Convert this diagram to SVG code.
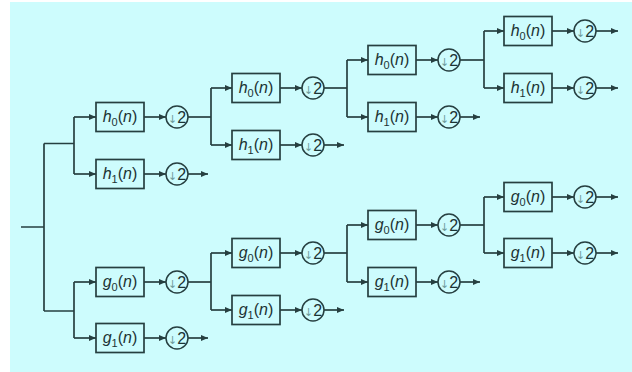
<svg xmlns="http://www.w3.org/2000/svg" width="632" height="372" viewBox="0 0 632 372">
  <style>
    .wire { fill: none; stroke: #263f40; stroke-width: 1.7; }
    .arr { fill: none; stroke: #263f40; stroke-width: 1.7; marker-end: url(#ah); }
    .box { fill: #cdfcfd; stroke: #263f40; stroke-width: 1.7; }
    .dec { fill: #cdfcfd; stroke: #263f40; stroke-width: 1.5; }
    .lbl { font-family: "Liberation Sans", Arial, sans-serif; font-size: 16px; fill: #1c3334; text-anchor: middle; }
    .it { font-style: italic; }
    .sub { font-size: 11px; }
    .dn { font-family: "DejaVu Sans", "Liberation Sans", sans-serif; font-size: 11px; fill: #6f9c9e; }
  </style>
  <defs>
    <marker id="ah" markerWidth="7" markerHeight="6" refX="7" refY="3" orient="auto" markerUnits="userSpaceOnUse">
      <path d="M0,0 L7,3 L0,6 z" fill="#263f40"/>
    </marker>
  </defs>

  <!-- background panel -->
  <rect x="10" y="2" width="622" height="370" fill="#cdfcfd"/>

  <!-- connectors -->
  <g id="connectors">
    <!-- input split -->
    <path class="wire" d="M21,227 H44 M44,143.5 V311 M44,143.5 H74 M44,311 H74"/>

    <!-- h branch, stage 1 -->
    <path class="wire" d="M74,117 V174"/>
    <path class="arr" d="M74,117 H96"/>
    <path class="arr" d="M74,174 H96"/>
    <path class="arr" d="M144,117 H166"/>
    <path class="arr" d="M144,174 H166"/>
    <path class="wire" d="M188,117 H211"/>
    <path class="arr" d="M188,174 H208"/>

    <!-- h branch, stage 2 -->
    <path class="wire" d="M211,88 V145"/>
    <path class="arr" d="M211,88 H232"/>
    <path class="arr" d="M211,145 H232"/>
    <path class="arr" d="M280,88 H302"/>
    <path class="arr" d="M280,145 H302"/>
    <path class="wire" d="M324,88 H347"/>
    <path class="arr" d="M324,145 H344"/>

    <!-- h branch, stage 3 -->
    <path class="wire" d="M347,60 V117"/>
    <path class="arr" d="M347,60 H368"/>
    <path class="arr" d="M347,117 H368"/>
    <path class="arr" d="M416,60 H438"/>
    <path class="arr" d="M416,117 H438"/>
    <path class="wire" d="M460,60 H484"/>
    <path class="arr" d="M460,117 H480"/>

    <!-- h branch, stage 4 -->
    <path class="wire" d="M484,31 V88"/>
    <path class="arr" d="M484,31 H504"/>
    <path class="arr" d="M484,88 H504"/>
    <path class="arr" d="M552,31 H574"/>
    <path class="arr" d="M552,88 H574"/>
    <path class="arr" d="M596,31 H618"/>
    <path class="arr" d="M596,88 H618"/>

    <!-- g branch, stage 1 -->
    <path class="wire" d="M74,282 V338"/>
    <path class="arr" d="M74,282 H96"/>
    <path class="arr" d="M74,338 H96"/>
    <path class="arr" d="M144,282 H166"/>
    <path class="arr" d="M144,338 H166"/>
    <path class="wire" d="M188,282 H211"/>
    <path class="arr" d="M188,338 H208"/>

    <!-- g branch, stage 2 -->
    <path class="wire" d="M211,253 V310"/>
    <path class="arr" d="M211,253 H232"/>
    <path class="arr" d="M211,310 H232"/>
    <path class="arr" d="M280,253 H302"/>
    <path class="arr" d="M280,310 H302"/>
    <path class="wire" d="M324,253 H347"/>
    <path class="arr" d="M324,310 H344"/>

    <!-- g branch, stage 3 -->
    <path class="wire" d="M347,225 V282"/>
    <path class="arr" d="M347,225 H368"/>
    <path class="arr" d="M347,282 H368"/>
    <path class="arr" d="M416,225 H438"/>
    <path class="arr" d="M416,282 H438"/>
    <path class="wire" d="M460,225 H484"/>
    <path class="arr" d="M460,282 H480"/>

    <!-- g branch, stage 4 -->
    <path class="wire" d="M484,197 V253"/>
    <path class="arr" d="M484,197 H504"/>
    <path class="arr" d="M484,253 H504"/>
    <path class="arr" d="M552,197 H574"/>
    <path class="arr" d="M552,253 H574"/>
    <path class="arr" d="M596,197 H618"/>
    <path class="arr" d="M596,253 H618"/>
  </g>

  <!-- filter blocks -->
  <g id="h0_1"><rect class="box" x="96" y="102.5" width="48" height="29"/><text class="lbl" x="120" y="122"><tspan class="it">h</tspan><tspan class="sub" dy="4">0</tspan><tspan dy="-4">(</tspan><tspan class="it">n</tspan>)</text></g>
  <g id="h1_1"><rect class="box" x="96" y="159.5" width="48" height="29"/><text class="lbl" x="120" y="179"><tspan class="it">h</tspan><tspan class="sub" dy="4">1</tspan><tspan dy="-4">(</tspan><tspan class="it">n</tspan>)</text></g>
  <g id="h0_2"><rect class="box" x="232" y="73.5" width="48" height="29"/><text class="lbl" x="256" y="93"><tspan class="it">h</tspan><tspan class="sub" dy="4">0</tspan><tspan dy="-4">(</tspan><tspan class="it">n</tspan>)</text></g>
  <g id="h1_2"><rect class="box" x="232" y="130.5" width="48" height="29"/><text class="lbl" x="256" y="150"><tspan class="it">h</tspan><tspan class="sub" dy="4">1</tspan><tspan dy="-4">(</tspan><tspan class="it">n</tspan>)</text></g>
  <g id="h0_3"><rect class="box" x="368" y="45.5" width="48" height="29"/><text class="lbl" x="392" y="65"><tspan class="it">h</tspan><tspan class="sub" dy="4">0</tspan><tspan dy="-4">(</tspan><tspan class="it">n</tspan>)</text></g>
  <g id="h1_3"><rect class="box" x="368" y="102.5" width="48" height="29"/><text class="lbl" x="392" y="122"><tspan class="it">h</tspan><tspan class="sub" dy="4">1</tspan><tspan dy="-4">(</tspan><tspan class="it">n</tspan>)</text></g>
  <g id="h0_4"><rect class="box" x="504" y="16.5" width="48" height="29"/><text class="lbl" x="528" y="36"><tspan class="it">h</tspan><tspan class="sub" dy="4">0</tspan><tspan dy="-4">(</tspan><tspan class="it">n</tspan>)</text></g>
  <g id="h1_4"><rect class="box" x="504" y="73.5" width="48" height="29"/><text class="lbl" x="528" y="93"><tspan class="it">h</tspan><tspan class="sub" dy="4">1</tspan><tspan dy="-4">(</tspan><tspan class="it">n</tspan>)</text></g>

  <g id="g0_1"><rect class="box" x="96" y="267.5" width="48" height="29"/><text class="lbl" x="120" y="287"><tspan class="it">g</tspan><tspan class="sub" dy="4">0</tspan><tspan dy="-4">(</tspan><tspan class="it">n</tspan>)</text></g>
  <g id="g1_1"><rect class="box" x="96" y="323.5" width="48" height="29"/><text class="lbl" x="120" y="343"><tspan class="it">g</tspan><tspan class="sub" dy="4">1</tspan><tspan dy="-4">(</tspan><tspan class="it">n</tspan>)</text></g>
  <g id="g0_2"><rect class="box" x="232" y="238.5" width="48" height="29"/><text class="lbl" x="256" y="258"><tspan class="it">g</tspan><tspan class="sub" dy="4">0</tspan><tspan dy="-4">(</tspan><tspan class="it">n</tspan>)</text></g>
  <g id="g1_2"><rect class="box" x="232" y="295.5" width="48" height="29"/><text class="lbl" x="256" y="315"><tspan class="it">g</tspan><tspan class="sub" dy="4">1</tspan><tspan dy="-4">(</tspan><tspan class="it">n</tspan>)</text></g>
  <g id="g0_3"><rect class="box" x="368" y="210.5" width="48" height="29"/><text class="lbl" x="392" y="230"><tspan class="it">g</tspan><tspan class="sub" dy="4">0</tspan><tspan dy="-4">(</tspan><tspan class="it">n</tspan>)</text></g>
  <g id="g1_3"><rect class="box" x="368" y="267.5" width="48" height="29"/><text class="lbl" x="392" y="287"><tspan class="it">g</tspan><tspan class="sub" dy="4">1</tspan><tspan dy="-4">(</tspan><tspan class="it">n</tspan>)</text></g>
  <g id="g0_4"><rect class="box" x="504" y="182.5" width="48" height="29"/><text class="lbl" x="528" y="202"><tspan class="it">g</tspan><tspan class="sub" dy="4">0</tspan><tspan dy="-4">(</tspan><tspan class="it">n</tspan>)</text></g>
  <g id="g1_4"><rect class="box" x="504" y="238.5" width="48" height="29"/><text class="lbl" x="528" y="258"><tspan class="it">g</tspan><tspan class="sub" dy="4">1</tspan><tspan dy="-4">(</tspan><tspan class="it">n</tspan>)</text></g>

  <!-- downsamplers -->
  <g id="d_h0_1"><circle class="dec" cx="177" cy="117" r="11"/><text class="lbl" x="177" y="122.5"><tspan class="dn">↓</tspan>2</text></g>
  <g id="d_h1_1"><circle class="dec" cx="177" cy="174" r="11"/><text class="lbl" x="177" y="179.5"><tspan class="dn">↓</tspan>2</text></g>
  <g id="d_h0_2"><circle class="dec" cx="313" cy="88" r="11"/><text class="lbl" x="313" y="93.5"><tspan class="dn">↓</tspan>2</text></g>
  <g id="d_h1_2"><circle class="dec" cx="313" cy="145" r="11"/><text class="lbl" x="313" y="150.5"><tspan class="dn">↓</tspan>2</text></g>
  <g id="d_h0_3"><circle class="dec" cx="449" cy="60" r="11"/><text class="lbl" x="449" y="65.5"><tspan class="dn">↓</tspan>2</text></g>
  <g id="d_h1_3"><circle class="dec" cx="449" cy="117" r="11"/><text class="lbl" x="449" y="122.5"><tspan class="dn">↓</tspan>2</text></g>
  <g id="d_h0_4"><circle class="dec" cx="585" cy="31" r="11"/><text class="lbl" x="585" y="36.5"><tspan class="dn">↓</tspan>2</text></g>
  <g id="d_h1_4"><circle class="dec" cx="585" cy="88" r="11"/><text class="lbl" x="585" y="93.5"><tspan class="dn">↓</tspan>2</text></g>
  <g id="d_g0_1"><circle class="dec" cx="177" cy="282" r="11"/><text class="lbl" x="177" y="287.5"><tspan class="dn">↓</tspan>2</text></g>
  <g id="d_g1_1"><circle class="dec" cx="177" cy="338" r="11"/><text class="lbl" x="177" y="343.5"><tspan class="dn">↓</tspan>2</text></g>
  <g id="d_g0_2"><circle class="dec" cx="313" cy="253" r="11"/><text class="lbl" x="313" y="258.5"><tspan class="dn">↓</tspan>2</text></g>
  <g id="d_g1_2"><circle class="dec" cx="313" cy="310" r="11"/><text class="lbl" x="313" y="315.5"><tspan class="dn">↓</tspan>2</text></g>
  <g id="d_g0_3"><circle class="dec" cx="449" cy="225" r="11"/><text class="lbl" x="449" y="230.5"><tspan class="dn">↓</tspan>2</text></g>
  <g id="d_g1_3"><circle class="dec" cx="449" cy="282" r="11"/><text class="lbl" x="449" y="287.5"><tspan class="dn">↓</tspan>2</text></g>
  <g id="d_g0_4"><circle class="dec" cx="585" cy="197" r="11"/><text class="lbl" x="585" y="202.5"><tspan class="dn">↓</tspan>2</text></g>
  <g id="d_g1_4"><circle class="dec" cx="585" cy="253" r="11"/><text class="lbl" x="585" y="258.5"><tspan class="dn">↓</tspan>2</text></g>
</svg>
